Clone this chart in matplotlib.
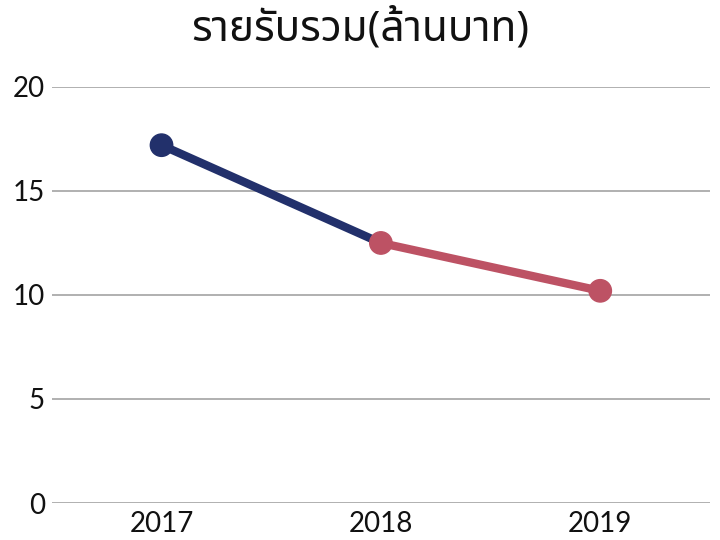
import matplotlib
matplotlib.use("Agg")
import matplotlib.pyplot as plt

# data
years = ["2017", "2018", "2019"]
revenue = [17.2, 12.5, 10.2]
point_colors = ["#22306b", "#bd5264", "#bd5264"]

plt.rcParams['font.family'] = ['Lato', 'Noto Sans Thai', 'DejaVu Sans']

fig = plt.figure(figsize=(7.2, 5.4), dpi=100)
ax = fig.add_axes([0.072, 0.0685, 0.914, 0.7705])

x = list(range(len(years)))
# the first segment is navy, the rest follow the pink points
seg_colors = [point_colors[0], point_colors[2]]
for i in range(1, len(x)):
    ax.plot(x[i-1:i+1], revenue[i-1:i+1], color=seg_colors[i - 1],
            linewidth=6, solid_capstyle='round', zorder=2)
ax.scatter(x, revenue, s=260, c=point_colors, zorder=3, clip_on=False)

ax.set_xlim(-0.5, 2.5)
ax.set_ylim(0, 20)
ax.set_yticks([0, 5, 10, 15, 20])
ax.set_xticks(x)
ax.set_xticklabels(years)
ax.tick_params(axis='both', length=0, labelsize=20, labelcolor='#111111')
ax.tick_params(axis='y', pad=5)
ax.tick_params(axis='x', pad=6)
ax.grid(axis='y', color='#aaaaaa', linewidth=1.3)
ax.set_axisbelow(True)
for s in ax.spines.values():
    s.set_visible(False)

fig.text(0.5, 0.945, "รายรับรวม(ล้านบาท)", ha='center', va='center', fontsize=30.5,
         family=['Noto Sans Thai', 'Lato'], color='#111111')

fig.savefig("out.png", dpi=100)
